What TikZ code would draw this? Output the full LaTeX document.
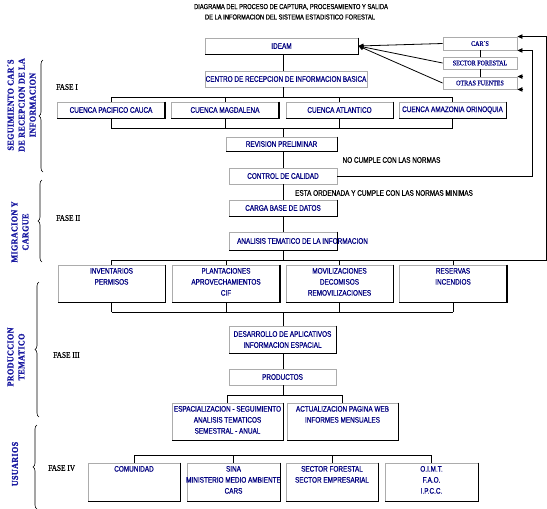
\documentclass[tikz,border=0pt]{standalone}
\usepackage{fontspec}
\usetikzlibrary{arrows.meta,decorations.pathreplacing}
\newfontfamily\bxf[FakeStretch=0.8,FakeBold=0.6]{Liberation Sans}
\newfontfamily\srf[FakeStretch=0.86,FakeBold=0.4]{Liberation Serif}
\newfontfamily\lblf[FakeStretch=0.9,LetterSpace=4,FakeBold=1.2]{Liberation Serif Bold}
\definecolor{navy}{RGB}{0,0,128}
\definecolor{lblue}{RGB}{25,25,160}
\newcommand\mybox[6]{%
  \node[bx,minimum width=#4pt,minimum height=#5pt] (#1) at (#2,#3) {};
  \node[tx] (#1t) at (#1) {#6};}
\newcommand\myboxtop[6]{%
  \node[bx,minimum width=#4pt,minimum height=#5pt] (#1) at (#2,#3) {};
  \node[tx,anchor=north] (#1t) at ([yshift=-3.3pt]#1.north) {#6};}
\begin{document}
\begin{tikzpicture}[x=1pt,y=-1pt,
  bx/.style={draw=gray!65,line width=0.9pt,fill=white,inner sep=0pt},
  tx/.style={font=\fontsize{8}{11}\bxf, text=navy, align=center, inner sep=0pt},
  stx/.style={font=\fontsize{7}{9}\srf, text=navy, inner sep=0pt},
  ttl/.style={font=\fontsize{7.2}{9}\bxf, inner sep=0pt},
  note/.style={font=\fontsize{8}{9}\bxf, inner sep=0pt},
  fase/.style={font=\fontsize{8.5}{9}\srf, inner sep=0pt, anchor=west},
  lbl/.style={font=\fontsize{9}{11}\lblf, text=lblue, align=center, inner sep=0pt, rotate=90},
  ln/.style={line width=0.8pt},
  shd/.style={line width=1.3pt,black},
  arr/.style={-{Triangle[length=5pt,width=4.5pt]}},
  brc/.style={decorate,decoration={brace,amplitude=4pt},line width=0.6pt}]
\useasboundingbox (0,0) rectangle (547,509);

% titles
\node[ttl] (ttl1) at (291,7) {DIAGRAMA DEL PROCESO DE CAPTURA, PROCESAMIENTO Y SALIDA};
\node[ttl] (ttl2) at (290,17) {DE LA INFORMACION DEL SISTEMA ESTADISTICO FORESTAL};

% top boxes
\mybox{ideam}{281.5}{46}{153}{16}{IDEAM}
\mybox{centro}{286}{79}{162}{16}{CENTRO DE RECEPCION DE INFORMACION BASICA}
\node[bx,minimum width=74pt,minimum height=13pt] (cars) at (480,43.5) {};
\node[stx] (carst) at (cars) {CAR´S};
\node[bx,minimum width=74pt,minimum height=12pt] (sect) at (480,63) {};
\node[stx] (sectt) at (sect) {SECTOR FORESTAL};
\node[bx,minimum width=74pt,minimum height=12pt] (otras) at (480,83) {};
\node[stx] (otrast) at (otras) {OTRAS FUENTES};

% cuencas
\mybox{c1}{111}{110}{107}{16}{CUENCA PACIFICO CAUCA}
\mybox{c2}{225}{110}{107}{16}{CUENCA MAGDALENA}
\mybox{c3}{339.5}{110}{107}{16}{CUENCA ATLANTICO}
\mybox{c4}{452.5}{110}{107}{16}{CUENCA AMAZONIA ORINOQUIA}

% chain
\mybox{rev}{281.5}{144}{111}{14}{REVISION PRELIMINAR}
\mybox{ctrl}{283}{176}{108}{16}{CONTROL DE CALIDAD}
\mybox{carga}{283}{208}{108}{16}{CARGA BASE DE DATOS}
\node[bx,minimum width=108pt,minimum height=18pt] (anal) at (283,241) {};
\node[tx] (analt) at (302.5,241) {ANALISIS TEMATICO DE LA INFORMACION};

% thematic
\myboxtop{t1}{111.5}{283.5}{107}{37}{INVENTARIOS\\PERMISOS}
\myboxtop{t2}{226}{283.5}{107}{37}{PLANTACIONES\\APROVECHAMIENTOS\\CIF}
\myboxtop{t3}{339.5}{283.5}{107}{37}{MOVILIZACIONES\\DECOMISOS\\REMOVILIZACIONES}
\myboxtop{t4}{453}{283.5}{107}{37}{RESERVAS\\INCENDIOS}

\mybox{des}{282.5}{339.5}{107}{27}{DESARROLLO DE APLICATIVOS\\INFORMACION ESPACIAL}
\mybox{prod}{282.5}{377}{107}{16}{PRODUCTOS}
\myboxtop{esp}{227.5}{421.5}{111}{37}{ESPACIALIZACION - SEGUIMIENTO\\ANALISIS TEMATICOS\\SEMESTRAL - ANUAL}
\myboxtop{act}{342.5}{421.5}{111}{37}{ACTUALIZACION PAGINA WEB\\INFORMES MENSUALES}

% usuarios
\myboxtop{u1}{134}{482}{92}{38}{COMUNIDAD}
\myboxtop{u2}{233.5}{482}{93}{38}{SINA\\MINISTERIO MEDIO AMBIENTE\\CARS}
\myboxtop{u3}{332}{482}{92}{38}{SECTOR FORESTAL\\SECTOR EMPRESARIAL}
\myboxtop{u4}{431.5}{482}{93}{38}{O.I.M.T.\\F.A.O.\\I.P.C.C.}

% shadows
\foreach \n in {ideam,c1,c2,c3,c4,rev,carga,anal,t1,t2,t3,t4,des,esp,act,u1,u2,u3,u4}
  \draw[shd] (\n.north east) -- (\n.south east) -- (\n.south west);

% notes
\node[note] (nc) at (391.5,160) {NO CUMPLE CON LAS NORMAS};
\node[note] (eo) at (384,193) {ESTA ORDENADA Y CUMPLE CON LAS NORMAS MINIMAS};

% connectors
\coordinate (sp) at (283,0);
\coordinate (b1) at (283,97);
\coordinate (b2) at (283,128);
\coordinate (b3) at (283,260);
\coordinate (b4) at (283,312);
\coordinate (b5) at (283,395);
\coordinate (b6) at (283,455);
\coordinate (rt) at (546,260);
\coordinate (lp) at (532,176);

\draw[ln] (sp |- ideam.south) -- (sp |- centro.north);
\draw[ln] (sp |- centro.south) -- (b1);
\draw[ln] (c1.north |- b1) -- (c4.north |- b1);
\foreach \c in {c1,c2,c3,c4} {
  \draw[ln] (\c.north |- b1) -- (\c.north);
  \draw[ln] (\c.south) -- (\c.south |- b2);
}
\draw[ln] (c1.south |- b2) -- (c4.south |- b2);
\draw[ln] (b2) -- (b2 |- rev.north);
\draw[ln] (sp |- rev.south) -- (sp |- ctrl.north);
\draw[ln] (sp |- ctrl.south) -- (sp |- carga.north);
\draw[ln] (sp |- carga.south) -- (sp |- anal.north);
\draw[ln] (sp |- anal.south) -- (b3);
\foreach \t in {t1,t2,t3,t4} {
  \draw[ln] (\t.north |- b3) -- (\t.north);
  \draw[ln] (\t.south) -- (\t.south |- b4);
}
\draw[ln,arr] (t1.north |- b3) -- (rt) -- (rt |- cars.north east) -- (cars.north east);
\draw[ln,arr] (ctrl.east) -- (lp) -- (lp |- cars.south east) -- (cars.south east);
\draw[ln,arr] ([xshift=6pt]otras.north east) -- (otras.north east);
\draw[ln,arr] ([xshift=6pt]otras.south east) -- (otras.south east);

\draw[ln,arr] (cars.west) -- (ideam.east);
\draw[ln,arr] (sect.west) -- (ideam.east);
\draw[ln,arr] (otras.west) -- (ideam.east);
\draw[ln] (cars.south) -- (sect.north);
\draw[ln] (sect.south) -- (otras.north);

\draw[ln] (t1.south |- b4) -- (t4.south |- b4);
\draw[ln] (b4) -- (sp |- des.north);
\draw[ln] (sp |- des.south) -- (sp |- prod.north);
\draw[ln] (sp |- prod.south) -- (b5);
\draw[ln] (esp.north |- b5) -- (act.north |- b5);
\draw[ln] (esp.north |- b5) -- (esp.north);
\draw[ln] (act.north |- b5) -- (act.north);

\draw[ln] (u1.north |- b6) -- (u4.north |- b6);
\foreach \u in {u1,u2,u3,u4}
  \draw[ln] (\u.north |- b6) -- (\u.north);

% braces
\draw[brc] (43,172) -- (43,60);
\draw[brc] (42,262) -- (42,180);
\draw[brc] (39,417) -- (39,282);
\draw[brc] (37,509) -- (37,425);

% side labels
\node[lbl] (l1) at (21.5,105) {SEGUIMIENTO CAR´S\\DE RECEPCION DE LA\\INFORMACION};
\node[lbl] (l2) at (20,232) {MIGRACION Y\\CARGUE};
\node[lbl] (l3) at (16,357) {PRODUCCION\\TEMATICO};
\node[lbl] (l4) at (15,464) {USUARIOS};

\node[fase] (f1) at (56,87) {FASE I};
\node[fase] (f2) at (56,218) {FASE II};
\node[fase] (f3) at (53,355) {FASE III};
\node[fase] (f4) at (48,468) {FASE IV};
\end{tikzpicture}
\end{document}
